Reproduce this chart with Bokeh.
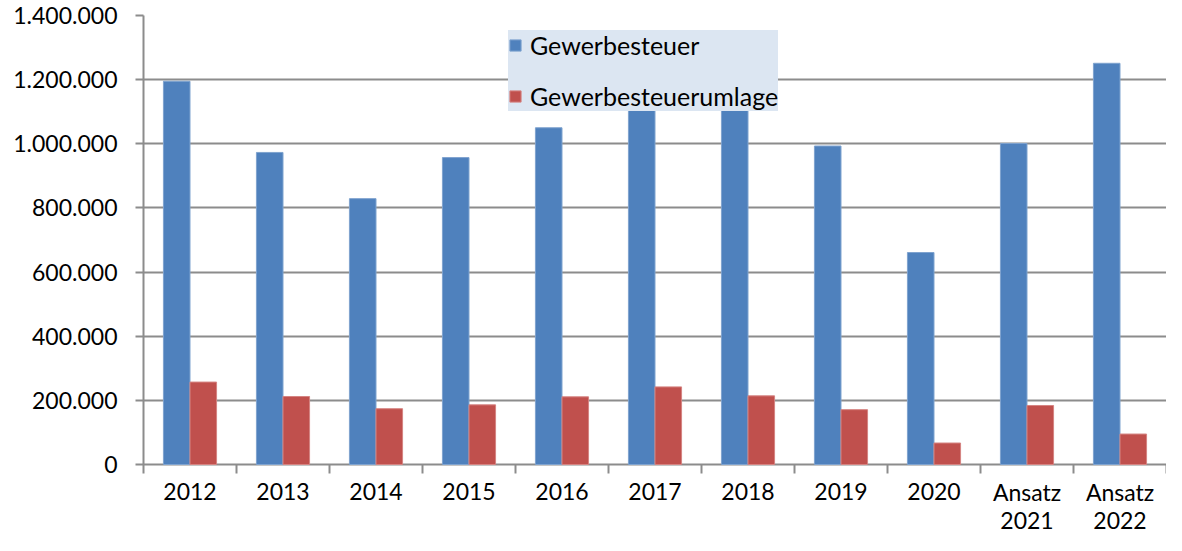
import numpy as np
from bokeh.plotting import figure
from bokeh.models import ColumnDataSource, FixedTicker, Range1d, Legend, LegendItem
from bokeh.core.properties import value
from bokeh.embed import file_html
from bokeh.resources import INLINE

categories = ["2012", "2013", "2014", "2015", "2016", "2017", "2018", "2019", "2020",
              "Ansatz\n2021", "Ansatz\n2022"]
gewerbesteuer = [1195000, 973000, 829000, 957000, 1050000, 1140000, 1120000, 993000,
                 661000, 1001000, 1251000]
umlage = [257000, 212000, 174000, 186000, 211000, 242000, 214000, 171000, 67000,
          184000, 95000]
series_names = ["Gewerbesteuer", "Gewerbesteuerumlage"]
colors = ["#4F81BD", "#C0504D"]
y_ticks = [0, 200000, 400000, 600000, 800000, 1000000, 1200000, 1400000]

FONT = "Lato"
GRID = "#8C8C8C"
W, H = 1166, 535
TOP, LEFT = 15, 143          # frame offsets in px
VALUE_PX = 449               # px from 0 to y max
y_max = y_ticks[-1]
frame_h = H - TOP
px = VALUE_PX / y_max        # px per unit
y_min = -(frame_h - VALUE_PX) / px

n = len(categories)
idx = np.arange(n)
bw = 1 / 3.5
line1 = [c.split("\n")[0] for c in categories]
line2 = [c.split("\n")[1] if "\n" in c else "" for c in categories]

src = ColumnDataSource(dict(
    xb=idx + 0.5 - bw / 2, xr=idx + 0.5 + bw / 2, xc=idx + 0.5,
    g=gewerbesteuer, u=umlage, l1=line1, l2=line2,
    y1=[-27 / px] * n, y2=[-56 / px] * n))

p = figure(width=W, height=H, output_backend="svg", toolbar_location=None,
           x_range=Range1d(0, n), y_range=Range1d(y_min, y_max),
           min_border_left=LEFT, min_border_right=0, min_border_top=TOP,
           min_border_bottom=0)
p.outline_line_color = None
p.background_fill_color = "white"
p.border_fill_color = "white"
p.xaxis.visible = False

r1 = p.vbar(x="xb", top="g", width=bw, source=src, fill_color=colors[0],
            line_color="#7FA3CF", line_width=1)
r2 = p.vbar(x="xr", top="u", width=bw, source=src, fill_color=colors[1],
            line_color="#D58482", line_width=1)

# y axis and grid
p.xgrid.visible = False
p.ygrid.ticker = FixedTicker(ticks=y_ticks)
p.ygrid.grid_line_color = GRID
p.ygrid.grid_line_width = 2
yax = p.yaxis[0]
yax.ticker = FixedTicker(ticks=y_ticks)
yax.bounds = (-9 / px, y_max)
yax.major_label_overrides = {t: f"{t:,}".replace(",", ".") for t in y_ticks}
yax.axis_line_color = GRID
yax.axis_line_width = 2
yax.major_tick_line_color = GRID
yax.major_tick_line_width = 2
yax.major_tick_out = 8
yax.major_tick_in = 0
yax.minor_tick_line_color = None
yax.major_label_standoff = 18
yax.major_label_text_font = FONT
yax.major_label_text_font_size = "23px"
yax.major_label_text_color = "black"

# category boundary ticks below the zero line
bounds_x = list(range(1, n + 1))
p.segment(x0=bounds_x, y0=[0] * n, x1=bounds_x, y1=[-9 / px] * n,
          line_color=GRID, line_width=2)

# category labels
for col, ycol in (("l1", "y1"), ("l2", "y2")):
    p.text(x="xc", y=ycol, text=col, source=src, text_align="center",
           text_baseline="alphabetic", text_font=value(FONT),
           text_font_size="23px", text_color="black")

legend = Legend(items=[LegendItem(label=series_names[0], renderers=[r1]),
                       LegendItem(label=series_names[1], renderers=[r2])],
                location=(365, 424))
legend.background_fill_color = "#DCE6F2"
legend.background_fill_alpha = 1
legend.border_line_color = None
legend.label_text_font = FONT
legend.label_text_font_size = "25px"
legend.label_text_color = "black"
legend.glyph_width = 14
legend.glyph_height = 14
legend.label_standoff = 8
legend.spacing = 21
legend.padding = 23
legend.margin = 0
p.add_layout(legend, "center")

open("out.html", "w").write(file_html(p, INLINE))
